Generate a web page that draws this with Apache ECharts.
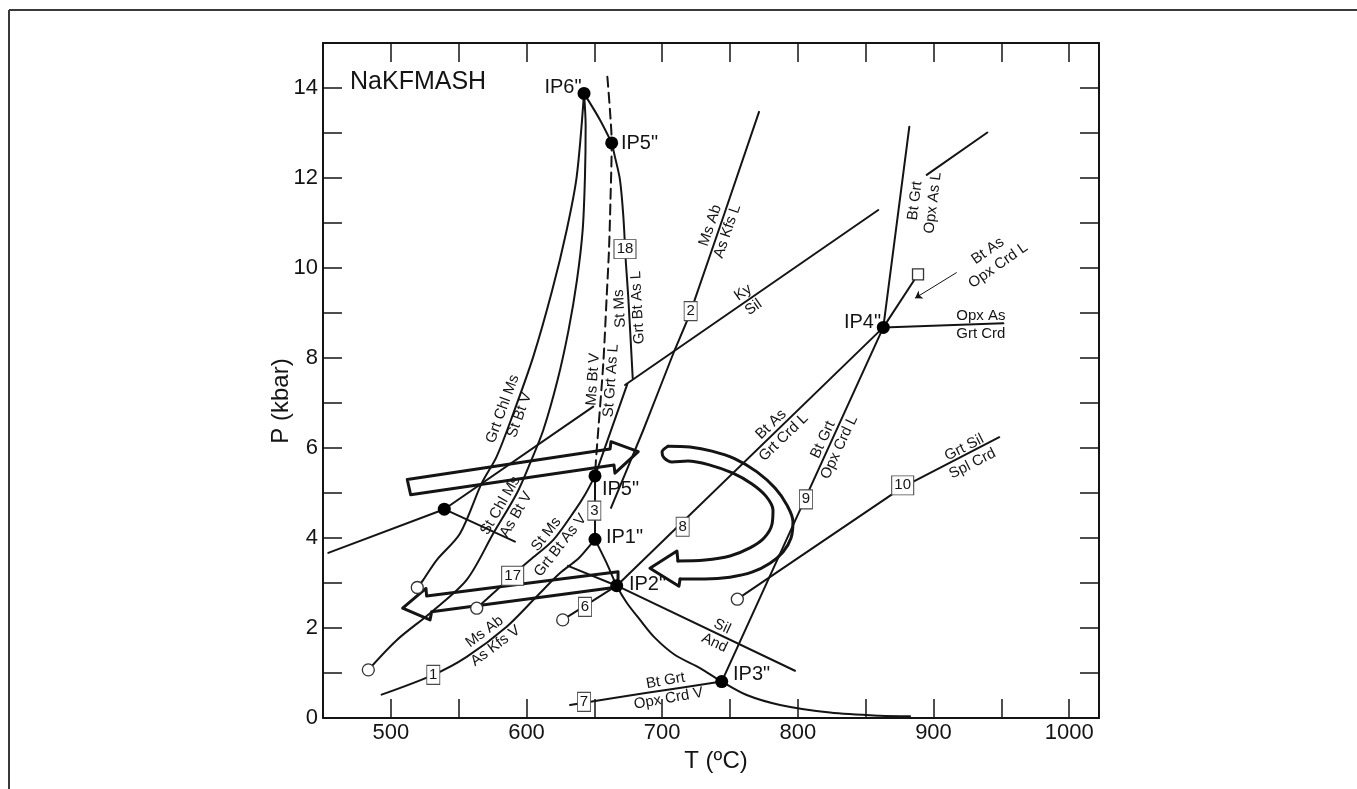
<!DOCTYPE html>
<html>
<head>
<meta charset="utf-8">
<script src="https://cdn.jsdelivr.net/npm/echarts@6/dist/echarts.min.js"></script>
<style>
  html, body { margin: 0; padding: 0; background: #ffffff; }
  #chart { width: 1357px; height: 789px; }
</style>
</head>
<body>
<div id="chart"></div>
<script>
// NaKFMASH petrogenetic grid, T (ºC) vs P (kbar)

// reaction curves, [T, P]
const curveGrtChlMs = [[642.4, 13.88], [637.0, 12.03], [629.6, 10.84], [619.0, 9.51], [605.0, 8.03], [590.3, 6.77],
  [578.0, 5.81], [567.0, 5.22], [551.0, 4.10], [533.8, 3.51], [523.9, 3.07], [519.5, 2.90]];
const curveStChlMs = [[642.4, 13.88], [643.6, 13.16], [643.1, 12.03], [641.4, 10.84], [637.2, 9.73], [631.0, 8.62],
  [622.9, 7.51], [612.4, 6.40], [602.6, 5.66], [592.8, 4.99], [575.5, 4.10], [555.9, 3.07], [528.9, 2.33],
  [504.3, 1.73], [483.4, 1.07]];
const curveStMsV = [[650.5, 5.38], [643.1, 4.96], [635.8, 4.62], [619.8, 3.96], [602.6, 3.51], [589.8, 3.18],
  [580.5, 2.91], [563.3, 2.44]];
const curveMsAbV = [[493.2, 0.52], [531.3, 0.96], [555.9, 1.36], [585.4, 2.03], [607.5, 2.70], [624.7, 3.22],
  [637.0, 3.51], [641.8, 3.66], [650.5, 3.97]];
const curveIP1toIP3 = [[650.5, 3.97], [659.1, 3.44], [666.5, 2.94], [673.9, 2.56], [683.7, 2.18], [694.7, 1.78],
  [709.5, 1.40], [727.9, 1.11], [743.9, 0.81], [762.3, 0.51], [786.9, 0.29], [823.7, 0.12], [860.6, 0.05], [882.7, 0.04]];
const curveStMsL = [[662.8, 12.78], [665.2, 12.47], [668.9, 11.96], [671.4, 11.14], [673.3, 10.10], [675.0, 9.36], [678.3, 7.55]];
const curveMsBtV = [[659.6, 14.25], [661.5, 13.51], [662.8, 12.78], [661.9, 11.51], [660.8, 10.40], [659.1, 9.36],
  [656.6, 7.88], [652.9, 6.40], [651.2, 5.73], [650.5, 5.38]];
const curveMsAbL = [[662.3, 4.67], [686.1, 6.40], [708.2, 8.10], [721.0, 9.03], [771.4, 13.47]];
const curveIP6toIP5 = [[642.4, 13.88], [654.2, 13.29], [662.8, 12.78]];

const lineSilAnd = [[630.6, 3.38], [666.5, 2.94], [797.9, 1.05]];
const line6 = [[626.7, 2.18], [666.5, 2.94]];
const line8 = [[666.5, 2.94], [863.0, 8.68]];
const line9 = [[743.9, 0.81], [863.0, 8.68]];
const line7 = [[632.1, 0.29], [689.0, 0.56], [743.9, 0.81]];
const line10 = [[755.4, 2.64], [877.3, 5.13], [948.5, 6.24]];
const lineKySilLow = [[672.6, 7.40], [859.3, 11.29]];
const lineKySilHigh = [[895.0, 12.07], [939.7, 13.01]];
const line3 = [[650.5, 5.38], [650.5, 3.97]];
const lineIP5toKy = [[650.5, 5.38], [674.3, 7.42]];
const lineBtGrtOpxAsL = [[863.0, 8.68], [882.2, 13.14]];
const lineBtAsOpxCrdL = [[863.0, 8.68], [888.6, 9.86]];
const lineOpxAsGrtCrd = [[863.0, 8.68], [951.5, 8.77]];
const lineLeftDot = [[453.9, 3.67], [539.4, 4.64], [649.2, 6.92]];
const lineDotBranch = [[539.4, 4.64], [591.5, 3.92]];
const leaderArrow = [[917.1, 9.90], [886.4, 9.33]];

// points
const invariantPoints = [[642.4, 13.88], [662.8, 12.78], [650.5, 5.38], [650.5, 3.97], [666.5, 2.94],
  [743.9, 0.81], [863.0, 8.68], [539.4, 4.64]];
const openCircles = [[483.4, 1.07], [519.5, 2.90], [563.3, 2.44], [626.7, 2.18], [755.4, 2.64]];
const openSquares = [[888.6, 9.86]];

// P-T path arrows
const arrowPrograde = [[512.1, 5.30], [661.6, 5.98], [662.3, 6.14], [682.4, 5.92], [665.2, 5.44], [664.5, 5.62],
  [514.6, 4.96], [512.1, 5.30]];
const arrowRetrograde = [[667.5, 3.25], [526.4, 2.71], [525.9, 2.88], [508.7, 2.44], [528.9, 2.18], [530.1, 2.36],
  [667.4, 2.91], [667.5, 3.25]];
const loopOuter = [[704.3, 6.04], [720.5, 6.02], [736.7, 5.93], [753.7, 5.76], [769.9, 5.47], [783.2, 5.11],
  [792.0, 4.73], [796.4, 4.36], [795.0, 4.00], [789.1, 3.69], [779.5, 3.44], [766.2, 3.24], [750.0, 3.13],
  [731.6, 3.09], [713.2, 3.09]];
const loopHead = [[713.2, 3.09], [712.4, 2.93], [691.0, 3.33], [710.9, 3.71], [711.6, 3.49]];
const loopInner = [[711.6, 3.49], [731.6, 3.51], [750.0, 3.60], [764.7, 3.78], [775.1, 4.00], [781.0, 4.31],
  [781.7, 4.62], [776.5, 4.93], [766.2, 5.20], [752.2, 5.44], [735.3, 5.62], [719.0, 5.71], [707.3, 5.69],
  [701.4, 5.78], [699.9, 5.91], [704.3, 6.04]];

// text
const pointNames = [['IP6"', 626.9, 14.02], ['IP5"', 683.3, 12.76], ['IP5"', 669.3, 5.08], ['IP1"', 672.2, 4.01],
  ['IP2"', 689.2, 2.96], ['IP3"', 765.9, 0.97], ['IP4"', 847.7, 8.79]];
const reactionLabels = [
  ['Grt Chl Ms\nSt Bt V', 588.6, 6.80, 70],
  ['St Chl Ms\nAs Bt V', 586.6, 4.62, 60],
  ['St Ms\nGrt Bt As V', 619.8, 3.96, 52],
  ['Ms Ab\nAs Kfs V', 573.1, 1.76, 37],
  ['Ms Bt V\nSt Grt As L', 655.7, 7.51, 86],
  ['St Ms\nGrt Bt As L', 675.4, 9.11, 93],
  ['Ms Ab\nAs Kfs L', 741.8, 10.88, 71],
  ['Ky\nSil', 763.5, 9.29, 35],
  ['Bt Grt\nOpx As L', 893.0, 11.47, 83],
  ['Bt As\nOpx Crd L', 943.9, 10.22, 35],
  ['Opx As\nGrt Crd', 934.9, 8.74, 0],
  ['Bt As\nGrt Crd L', 784.9, 6.38, 44],
  ['Bt Grt\nOpx Crd L', 824.5, 6.10, 65],
  ['Grt Sil\nSpl Crd', 925.7, 5.83, 27],
  ['Sil\nAnd', 741.4, 1.85, -25],
  ['Bt Grt\nOpx Crd V', 703.6, 0.63, 10]
];
const reactionNumbers = [['1', 531.3, 0.96], ['2', 721.0, 9.04], ['3', 650.0, 4.61], ['6', 643.1, 2.47],
  ['7', 642.4, 0.36], ['8', 715.1, 4.25], ['9', 806.0, 4.86], ['10', 877.3, 5.17], ['17', 589.8, 3.16],
  ['18', 672.6, 10.42]];
const systemName = ['NaKFMASH', 469.9, 14.13];

const tempTicks = [500, 600, 700, 800, 900, 1000];
const pressTicks = [0, 2, 4, 6, 8, 10, 12, 14];

const INK = '#141414';
const FONT = '"Liberation Sans", Arial, sans-serif';

function path(data, opts) {
  const o = opts || {};
  return {
    type: 'line',
    data: data,
    symbol: 'none',
    smooth: o.smooth || false,
    lineStyle: { color: INK, width: o.width || 2, type: o.dash || 'solid', cap: 'round', join: 'round', opacity: 1 },
    z: o.z || 2,
    silent: true,
    animation: false
  };
}

// invisible anchor used to place text at data coordinates
function textLayer(data, labelStyle) {
  return {
    type: 'scatter',
    data: data,
    symbolSize: 1,
    itemStyle: { color: 'rgba(0,0,0,0)', opacity: 1 },
    label: Object.assign({
      show: true, position: 'inside', color: INK, fontFamily: FONT,
      textBorderWidth: 0, opacity: 1
    }, labelStyle),
    z: 7,
    silent: true,
    animation: false
  };
}

const series = [
  path(curveGrtChlMs, { smooth: 0.3 }),
  path(curveStChlMs, { smooth: 0.3 }),
  path(curveStMsV, { smooth: 0.3 }),
  path(curveMsAbV, { smooth: 0.3 }),
  path(curveIP1toIP3, { smooth: 0.3 }),
  path(curveStMsL, { smooth: 0.3 }),
  path(curveMsBtV, { smooth: 0.3, dash: [10, 6] }),
  path(curveMsAbL, { smooth: 0.2 }),
  path(curveIP6toIP5, { smooth: 0.3 }),
  path(lineSilAnd),
  path(line6),
  path(line8),
  path(line9),
  path(line7, { smooth: 0.3 }),
  path(line10),
  path(lineKySilLow),
  path(lineKySilHigh),
  path(line3),
  path(lineIP5toKy),
  path(lineBtGrtOpxAsL),
  path(lineBtAsOpxCrdL),
  path(lineOpxAsGrtCrd),
  path(lineLeftDot),
  path(lineDotBranch),
  path(arrowPrograde, { width: 3, z: 3 }),
  path(arrowRetrograde, { width: 3, z: 3 }),
  path(loopOuter, { width: 3, z: 3, smooth: 0.35 }),
  path(loopHead, { width: 3, z: 3 }),
  path(loopInner, { width: 3, z: 3, smooth: 0.35 }),
  {
    type: 'lines',
    coordinateSystem: 'cartesian2d',
    data: [{ coords: leaderArrow }],
    symbol: ['none', 'arrow'],
    symbolSize: 7,
    lineStyle: { color: INK, width: 1, opacity: 1 },
    z: 3,
    silent: true,
    animation: false
  },
  {
    type: 'scatter',
    data: reactionNumbers.map(function (d) {
      return { value: [d[1], d[2]], name: d[0], symbolSize: d[0].length > 1 ? [22, 19] : [13, 19] };
    }),
    symbol: 'rect',
    itemStyle: { color: '#ffffff', borderColor: '#4a4a4a', borderWidth: 1, opacity: 1 },
    label: { show: true, position: 'inside', formatter: '{b}', fontSize: 15, color: INK, fontFamily: FONT, textBorderWidth: 0 },
    z: 5,
    silent: true,
    animation: false
  },
  {
    type: 'scatter',
    data: openCircles,
    symbol: 'circle',
    symbolSize: 12,
    itemStyle: { color: '#ffffff', borderColor: '#333333', borderWidth: 1.3, opacity: 1 },
    z: 5,
    silent: true,
    animation: false
  },
  {
    type: 'scatter',
    data: openSquares,
    symbol: 'rect',
    symbolSize: 11,
    itemStyle: { color: '#ffffff', borderColor: '#333333', borderWidth: 1.3, opacity: 1 },
    z: 5,
    silent: true,
    animation: false
  },
  {
    type: 'scatter',
    data: invariantPoints,
    symbol: 'circle',
    symbolSize: 13,
    itemStyle: { color: '#000000', opacity: 1 },
    z: 6,
    silent: true,
    animation: false
  },
  textLayer(pointNames.map(function (d) { return { value: [d[1], d[2]], name: d[0] }; }),
    { formatter: '{b}', fontSize: 20 }),
  textLayer(reactionLabels.map(function (d) {
    return { value: [d[1], d[2]], label: { formatter: d[0], rotate: d[3] } };
  }), { fontSize: 15, lineHeight: 18 }),
  textLayer([{ value: [systemName[1], systemName[2]], name: systemName[0] }],
    { formatter: '{b}', align: 'left', fontSize: 25 })
];

const axisLineStyle = { color: INK, width: 2 };
const tickStyle = { show: true, inside: true, length: 19, lineStyle: { color: INK, width: 1.5 } };

const chart = echarts.init(document.getElementById('chart'), null, { renderer: 'canvas' });
chart.setOption({
  animation: false,
  backgroundColor: '#ffffff',
  grid: { left: 323, right: 258, top: 43, bottom: 71, containLabel: false, outerBoundsMode: 'none' },
  xAxis: [
    {
      type: 'value', position: 'bottom', min: 450, max: 1022, interval: 50,
      name: 'T (ºC)', nameLocation: 'middle', nameGap: 24,
      nameTextStyle: { fontSize: 24, color: INK, fontFamily: FONT, verticalAlign: 'top', padding: [0, 0, 0, 10] },
      axisLine: { show: true, onZero: false, lineStyle: axisLineStyle },
      axisTick: tickStyle,
      axisLabel: {
        fontSize: 22, color: INK, fontFamily: FONT, margin: 4,
        formatter: function (v) { return tempTicks.indexOf(v) >= 0 ? String(v) : ''; }
      },
      splitLine: { show: false }
    },
    {
      type: 'value', position: 'top', min: 450, max: 1022, interval: 50,
      axisLine: { show: true, onZero: false, lineStyle: axisLineStyle },
      axisTick: tickStyle,
      axisLabel: { show: false },
      splitLine: { show: false }
    }
  ],
  yAxis: [
    {
      type: 'value', position: 'left', min: 0, max: 15, interval: 1,
      axisLine: { show: true, onZero: false, lineStyle: axisLineStyle },
      axisTick: tickStyle,
      axisLabel: {
        fontSize: 22, color: INK, fontFamily: FONT, margin: 5,
        formatter: function (v) { return pressTicks.indexOf(v) >= 0 ? String(v) : ''; }
      },
      splitLine: { show: false }
    },
    {
      type: 'value', position: 'right', min: 0, max: 15, interval: 1,
      axisLine: { show: true, onZero: false, lineStyle: axisLineStyle },
      axisTick: tickStyle,
      axisLabel: { show: false },
      splitLine: { show: false }
    }
  ],
  graphic: [
    { type: 'line', shape: { x1: 9, y1: 10, x2: 1357, y2: 10 }, style: { stroke: '#3a3a3a', lineWidth: 2 } },
    { type: 'line', shape: { x1: 9, y1: 10, x2: 9, y2: 789 }, style: { stroke: '#3a3a3a', lineWidth: 2 } },
    {
      type: 'text', x: 281, y: 401, rotation: Math.PI / 2,
      style: { text: 'P (kbar)', font: '24px "Liberation Sans", Arial, sans-serif', fill: INK, align: 'center', verticalAlign: 'middle' }
    }
  ],
  series: series
});
</script>
</body>
</html>
